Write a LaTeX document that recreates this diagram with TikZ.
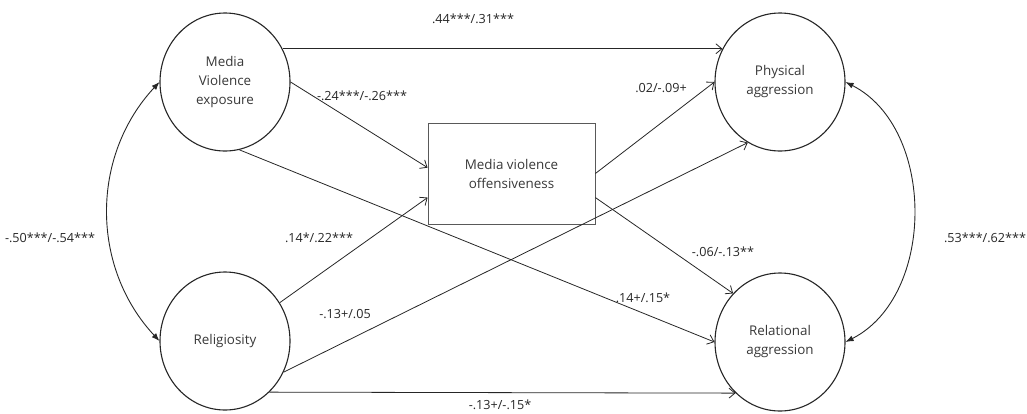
\documentclass[tikz,border=0pt]{standalone}
\usepackage{fontspec}
\setmainfont{Open Sans}
\usetikzlibrary{arrows.meta,shapes.geometric}

\begin{document}
\begin{tikzpicture}[x=1pt,y=-1pt,
    latent/.style={ellipse,draw=black!85,line width=1.1pt,minimum width=130pt,minimum height=138pt,inner sep=0pt,align=center,text=black!78,font=\fontsize{13.4}{19}\selectfont},
    mediator/.style={rectangle,draw=black!65,line width=0.8pt,minimum width=167pt,minimum height=101pt,align=center,text=black!78,font=\fontsize{13.4}{19}\selectfont},
    path/.style={-{Straight Barb[length=6pt,width=10pt]},line width=0.8pt,draw=black!85},
    cov/.style={{Latex[length=8pt,width=6pt]}-{Latex[length=8pt,width=6pt]},line width=0.9pt,draw=black!85},
    coef/.style={font=\fontsize{12.6}{15}\selectfont,text=black!85,inner sep=0pt}]
    \useasboundingbox (0,0) rectangle (1027,413);
    % variables
    \node[latent] (mve) at (225,82) {Media\\Violence\\exposure};
    \node[latent] (relig) at (225,341) {Religiosity};
    \node[latent] (phys) at (780,82) {Physical\\aggression};
    \node[latent] (relag) at (780,342) {Relational\\aggression};
    \node[mediator] (mvo) at (511.5,173.5) {Media violence\\offensiveness};
    % paths
    \draw[path] (mve.30) -- (phys.150);
    \draw[path] (mve.east) -- (mvo.176);
    \draw[path] (mve.-78) -- (relag.west);
    \draw[path] (relig.35) -- (mvo.196);
    \draw[path] (relig.-28) -- (phys.-118);
    \draw[path] (relig.-49) -- (relag.-131);
    \draw[path] (mvo.east) -- (phys.west);
    \draw[path] (mvo.-16) -- (relag.134);
    % correlations
    \draw[cov] (mve.west) to[bend right=43] (relig.west);
    \draw[cov] (phys.east) to[bend left=63] (relag.east);
    % coefficients
    \node[coef] (c1) at (473,19) {.44***/.31***};
    \node[coef] (c2) at (362,96) {-.24***/-.26***};
    \node[coef] (c3) at (661,88) {.02/-.09+};
    \node[coef] (c4) at (319,238) {.14*/.22***};
    \node[coef] (c5) at (345,314) {-.13+/.05};
    \node[coef] (c6) at (723,252) {-.06/-.13**};
    \node[coef] (c7) at (643,298) {.14+/.15*};
    \node[coef] (c8) at (500,405) {-.13+/-.15*};
    \node[coef] (c9) at (50,238) {-.50***/-.54***};
    \node[coef] (c10) at (985,238) {.53***/.62***};
\end{tikzpicture}
\end{document}
